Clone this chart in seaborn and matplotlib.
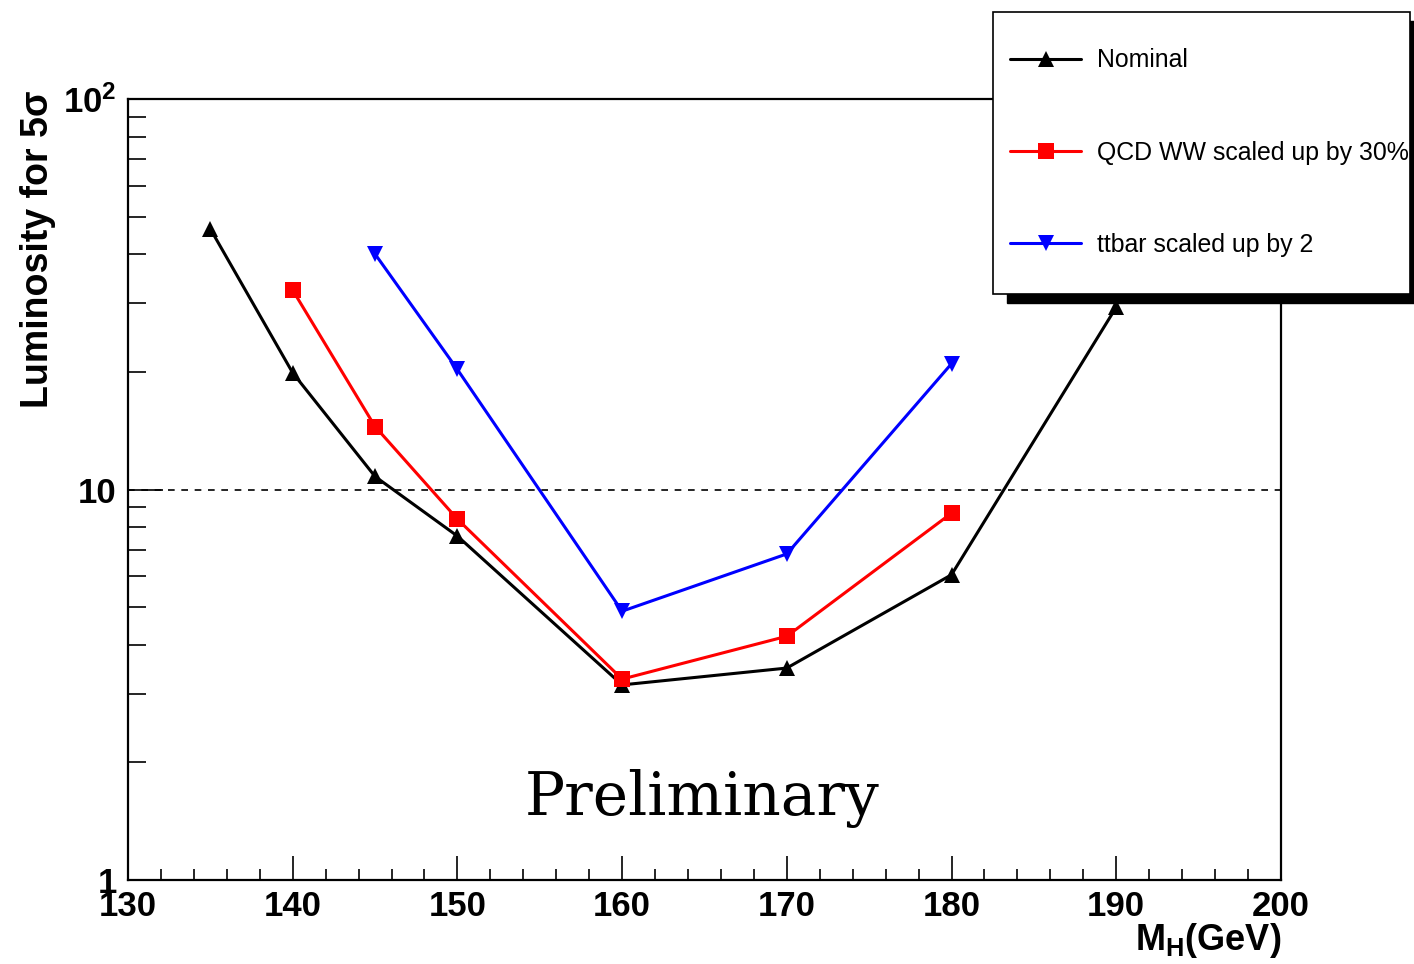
import numpy as np
import pandas as pd
import matplotlib
matplotlib.use("Agg")
import matplotlib.pyplot as plt
import seaborn as sns
from matplotlib.patches import Rectangle
from matplotlib.ticker import FixedLocator, NullFormatter

# Higgs mass points and luminosity needed for 5 sigma
mass_nominal = [135, 140, 145, 150, 160, 170, 180, 190]
lumi_nominal = [46.5, 19.9, 10.8, 7.6, 3.16, 3.49, 6.05, 29.3]

mass_qcdww = [140, 145, 150, 160, 170, 180]
lumi_qcdww = [32.4, 14.5, 8.4, 3.27, 4.21, 8.7]

mass_ttbar = [145, 150, 160, 170, 180]
lumi_ttbar = [40.1, 20.3, 4.88, 6.84, 21.0]

labels = ["Nominal", "QCD WW scaled up by 30%", "ttbar scaled up by 2"]
colors = {"Nominal": "black", "QCD WW scaled up by 30%": "#ff0000", "ttbar scaled up by 2": "#0000ff"}
markers = {"Nominal": "^", "QCD WW scaled up by 30%": "s", "ttbar scaled up by 2": "v"}

df = pd.concat([
    pd.DataFrame({"mass": mass_nominal, "lumi": lumi_nominal, "sample": labels[0]}),
    pd.DataFrame({"mass": mass_qcdww, "lumi": lumi_qcdww, "sample": labels[1]}),
    pd.DataFrame({"mass": mass_ttbar, "lumi": lumi_ttbar, "sample": labels[2]}),
])

sns.set_theme(style="white")
plt.rcParams["font.family"] = ["Liberation Sans", "DejaVu Sans"]
plt.rcParams["mathtext.fontset"] = "custom"
plt.rcParams["mathtext.rm"] = "Liberation Sans"
plt.rcParams["mathtext.bf"] = "Liberation Sans:bold"
plt.rcParams["text.color"] = "black"
plt.rcParams["xtick.color"] = "black"
plt.rcParams["ytick.color"] = "black"

fig = plt.figure(figsize=(14.14, 9.64), dpi=100)
ax = fig.add_axes([0.0905, 0.0871, 0.8154, 0.8102])

sns.lineplot(data=df, x="mass", y="lumi", hue="sample", style="sample",
             palette=colors, markers=markers, dashes=False, linewidth=2.2,
             markersize=11, markeredgewidth=0, legend=False, ax=ax)

# 10 fb-1 reference line
ax.axhline(10, color="black", linestyle=(0, (4, 4)), linewidth=1.2, zorder=1)

ax.set_yscale("log")
ax.set_xlim(130, 200)
ax.set_ylim(1, 100)
ax.set_xlabel("")
ax.set_ylabel("")

for s in ax.spines.values():
    s.set_color("black")
    s.set_linewidth(1.6)

ax.xaxis.set_major_locator(FixedLocator(np.arange(130, 201, 10)))
ax.xaxis.set_minor_locator(FixedLocator(np.arange(130, 201, 2)))
ax.set_xticklabels([str(v) for v in range(130, 201, 10)])
ax.yaxis.set_major_locator(FixedLocator([1, 10, 100]))
ax.yaxis.set_minor_locator(FixedLocator([m * d for d in (1, 10) for m in range(2, 10)]))
ax.yaxis.set_minor_formatter(NullFormatter())
ax.set_yticklabels(["1", "10", r"$\mathbf{10^{2}}$"])

ax.tick_params(axis="x", which="major", direction="in", length=17, width=1.2,
               labelsize=25, pad=7, bottom=True, top=False)
ax.tick_params(axis="x", which="minor", direction="in", length=8, width=1.2,
               bottom=True, top=False)
ax.tick_params(axis="y", which="major", direction="in", length=25, width=1.2,
               labelsize=25, pad=8, left=True, right=False)
ax.tick_params(axis="y", which="minor", direction="in", length=13, width=1.2,
               left=True, right=False)
for t in ax.get_xticklabels() + ax.get_yticklabels():
    t.set_fontweight("bold")

ax.text(0.498, 0.105, "Preliminary", transform=ax.transAxes, ha="center",
        va="center", fontsize=43, family="DejaVu Serif")

fig.text(0.027, 0.9066, "Luminosity for 5σ", rotation=90, ha="center", va="top",
         fontsize=27, fontweight="bold")
fig.text(1281 / 1414, (964 - 940) / 964, r"$\mathbf{M_{H}(GeV)}$", ha="right",
         va="center", fontsize=26)

# legend box with ROOT-style shadow
fig.patches.append(Rectangle((1007 / 1414, (964 - 303) / 964), 417 / 1414, 282 / 964,
                             transform=fig.transFigure, facecolor="black",
                             edgecolor="black", zorder=3))
fig.patches.append(Rectangle((993 / 1414, (964 - 294) / 964), 417 / 1414, 282 / 964,
                             transform=fig.transFigure, facecolor="white",
                             edgecolor="black", linewidth=1.2, zorder=4))

handles = [plt.Line2D([], [], color=colors[l], marker=markers[l], markersize=11,
                      markeredgewidth=0, linewidth=2.2) for l in labels]
leg = fig.legend(handles, labels, loc="upper left",
                 bbox_to_anchor=(998 / 1414, (964 - 36) / 964), frameon=False,
                 fontsize=17.9, handlelength=2.85, handletextpad=0.62,
                 labelspacing=2.75, borderpad=0)
leg.set_zorder(5)

fig.savefig("out.png", dpi=100)
